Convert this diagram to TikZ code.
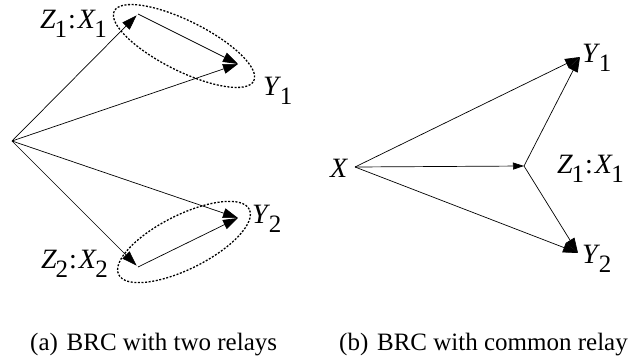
\documentclass[tikz,border=0pt]{standalone}
\usepackage{fontspec}
\setmainfont{Liberation Serif}
\usetikzlibrary{arrows.meta, positioning, shapes.geometric}

% italic variable with a large, lowered upright index
\newcommand{\rvar}[2]{\textit{#1}\kern-1.5pt\raisebox{-9pt}{\fontsize{25}{27}\selectfont #2}}

\begin{document}
\begin{tikzpicture}[
  x=1pt, y=-1pt,
  lbl/.style={font=\fontsize{28}{30}\selectfont, inner sep=0pt, anchor=base west},
  capt/.style={font=\fontsize{25}{27}\selectfont, inner sep=0pt, anchor=base west},
  grp/.style={ellipse, draw, line width=1.3pt, dash pattern=on 2pt off 1.6pt, inner sep=0pt},
  link/.style={->, line width=0.7pt},
  >={Triangle[length=15pt, width=10pt]}
]
  \useasboundingbox (0,0) rectangle (630,362);

  % (a) two relays
  \coordinate (srcA) at (12,141);
  \coordinate (relA) at (138,14);
  \coordinate (outA) at (238,64);
  \coordinate (relB) at (138,267);
  \coordinate (outB) at (238,218);

  \node[grp, minimum width=156pt, minimum height=50pt, rotate=-26.6] (grpA) at (184,46) {};
  \node[grp, minimum width=146pt, minimum height=54pt, rotate=26.6] (grpB) at (184,242) {};

  \draw[link, shorten >=2pt] (srcA) -- (relA);
  \draw[link] (relA) -- (outA);
  \draw[link] (srcA) -- (outA);
  \draw[link] (srcA) -- (outB);
  \draw[link, shorten >=2pt] (srcA) -- (relB);
  \draw[link] (relB) -- (outB);

  \node[lbl] (zxA) at (40,28) {\rvar{Z}{1}\kern1pt:\kern2pt\rvar{X}{1}};
  \node[lbl] (yA) at (263,95) {\rvar{Y}{1}};
  \node[lbl] (yB) at (252,223) {\rvar{Y}{2}};
  \node[lbl] (zxB) at (41,268) {\rvar{Z}{2}\kern1pt:\kern2pt\rvar{X}{2}};

  % (b) common relay
  \coordinate (srcC) at (355,167);
  \coordinate (relC) at (524,166);
  \coordinate (outC) at (580,57);
  \coordinate (outD) at (578,253);

  \draw[link] (srcC) -- (outC);
  \draw[link, >={Triangle[length=11pt, width=7pt]}] (srcC) -- (relC);
  \draw[link] (srcC) -- (outD);
  \draw[link] (relC) -- (outC);
  \draw[link] (relC) -- (outD);

  \node[lbl] (xC) at (330,177) {\textit{X}};
  \node[lbl] (yC) at (582,62) {\rvar{Y}{1}};
  \node[lbl] (yD) at (582,263) {\rvar{Y}{2}};
  \node[lbl] (zxC) at (557,173) {\rvar{Z}{1}\kern1pt:\kern2pt\rvar{X}{1}};

  % captions
  \node[capt] (captA) at (30,350) {(a)\hspace{0.35em}BRC with two relays};
  \node[capt] (captB) at (339,350) {(b)\hspace{0.35em}BRC with common relay};
\end{tikzpicture}
\end{document}
